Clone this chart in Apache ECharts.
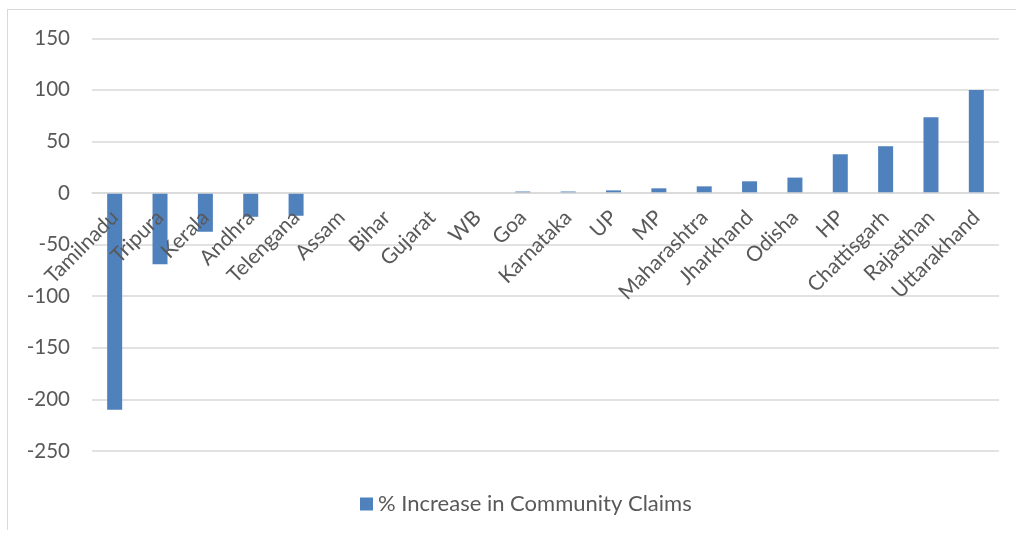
<!DOCTYPE html>
<html>
<head>
<meta charset="utf-8">
<script src="https://cdn.jsdelivr.net/npm/echarts@6/dist/echarts.min.js"></script>
<style>
  html, body { margin: 0; padding: 0; background: #ffffff; }
  #chart { width: 1016px; height: 533px; }
</style>
</head>
<body>
<div id="chart"></div>
<script>
// States ordered from largest fall to largest rise
const categories = ['Tamilnadu', 'Tripura', 'Kerala', 'Andhra', 'Telengana', 'Assam', 'Bihar', 'Gujarat', 'WB',
  'Goa', 'Karnataka', 'UP', 'MP', 'Maharashtra', 'Jharkhand', 'Odisha', 'HP', 'Chattisgarh', 'Rajasthan', 'Uttarakhand'];
const claimIncrease = [-210, -69, -37.5, -23, -22, 0, 0, 0, 0,
  1.5, 1.5, 2.6, 4.6, 6.5, 11.4, 15, 37.6, 45.4, 73.5, 100];
const seriesName = '% Increase in Community Claims';
const yTicks = { min: -250, max: 150, interval: 50 };

const FONT = 'Lato';
const TEXT = '#595959';
const GRID = '#d9d9d9';

const chart = echarts.init(document.getElementById('chart'));
chart.setOption({
  animation: false,
  backgroundColor: '#ffffff',
  textStyle: { fontFamily: FONT },
  graphic: [
    { type: 'line', shape: { x1: 7, y1: 9.5, x2: 1016, y2: 9.5 }, style: { stroke: GRID, lineWidth: 1 } },
    { type: 'line', shape: { x1: 7.5, y1: 9.5, x2: 7.5, y2: 530 }, style: { stroke: GRID, lineWidth: 1 } }
  ],
  grid: { left: 92, right: 17, top: 38.3, bottom: 82, containLabel: false, outerBoundsMode: 'none' },
  legend: {
    data: [seriesName],
    bottom: 13,
    left: 355,
    icon: 'rect',
    itemWidth: 13,
    itemHeight: 13,
    itemGap: 6,
    textStyle: { fontFamily: FONT, fontSize: 22, color: TEXT }
  },
  xAxis: {
    type: 'category',
    data: categories,
    z: 5,
    axisLine: { show: true, onZero: false, lineStyle: { color: GRID, width: 1.5 } },
    axisTick: { show: false },
    axisLabel: {
      interval: 0,
      rotate: 45,
      margin: 21,
      hideOverlap: false,
      fontFamily: FONT,
      fontSize: 21,
      color: TEXT
    }
  },
  yAxis: {
    type: 'value',
    min: yTicks.min,
    max: yTicks.max,
    interval: yTicks.interval,
    axisLine: { show: false },
    axisTick: { show: false },
    splitLine: { lineStyle: { color: GRID, width: 1.5 } },
    axisLabel: { fontFamily: FONT, fontSize: 20.5, color: TEXT, margin: 22 }
  },
  series: [{
    name: seriesName,
    type: 'bar',
    z: 2,
    data: claimIncrease,
    barWidth: 15,
    itemStyle: { color: '#4f81bd' }
  }]
});

// Lift the category axis (line and labels) up to the zero line of the value scale
const zeroY = chart.convertToPixel({ yAxisIndex: 0 }, 0);
const bottomY = chart.convertToPixel({ yAxisIndex: 0 }, yTicks.min);
chart.setOption({ xAxis: { offset: zeroY - bottomY } });
</script>
</body>
</html>
